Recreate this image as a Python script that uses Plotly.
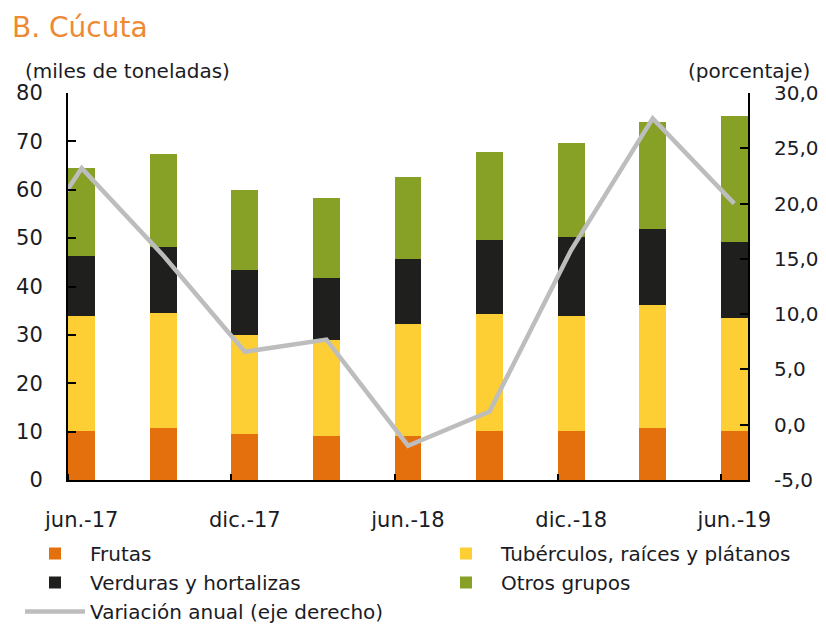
import plotly.graph_objects as go

# ---- data ----
periods = ["jun.-17", "sep.-17", "dic.-17", "mar.-18", "jun.-18",
           "sep.-18", "dic.-18", "mar.-19", "jun.-19"]
line_periods = ["mar.-17"] + periods

frutas = [10.2, 10.8, 9.6, 9.1, 9.1, 10.2, 10.2, 10.8, 10.2]
tuberculos = [23.7, 23.8, 20.4, 19.8, 23.2, 24.2, 23.7, 25.4, 23.2]
verduras = [12.4, 13.5, 13.5, 12.8, 13.4, 15.3, 16.4, 15.7, 15.7]
otros = [18.1, 19.2, 16.4, 16.6, 17.0, 18.1, 19.3, 22.1, 26.1]
variacion = [12.0, 23.2, 15.3, 6.6, 7.7, -1.9, 1.2, 15.8, 27.7, 20.0]

x_tick_labels = ["jun.-17", "dic.-17", "jun.-18", "dic.-18", "jun.-19"]
y_left_ticks = [0, 10, 20, 30, 40, 50, 60, 70, 80]
y_right_ticks = [-5, 0, 5, 10, 15, 20, 25, 30]
y_right_labels = ["-5,0", "0,0", "5,0", "10,0", "15,0", "20,0", "25,0", "30,0"]

# ---- styling ----
FONT = "DejaVu Sans"
TXT = "#1b1b24"
W, H = 826, 624
pos = {p: i for i, p in enumerate(line_periods)}
xb = [pos[p] for p in periods]
xl = [pos[p] for p in line_periods]
BW = 0.33

fig = go.Figure()
series = [
    ("Frutas", frutas, "#E3700D", "legend"),
    ("Tubérculos, raíces y plátanos", tuberculos, "#FDCF35", "legend2"),
    ("Verduras y hortalizas", verduras, "#1F1F1D", "legend"),
    ("Otros grupos", otros, "#87A026", "legend2"),
]
for name, vals, col, lg in series:
    fig.add_trace(go.Bar(x=xb, y=vals, name=name, width=BW, legend=lg,
                         marker=dict(color=col, line=dict(width=0))))

fig.add_trace(go.Scatter(x=xl, y=variacion, name="Variación anual (eje derecho)",
                         mode="lines", yaxis="y2", legend="legend",
                         line=dict(color="#BDBDBD", width=4.5)))

legend_style = dict(orientation="v", xanchor="left", yanchor="top",
                    xref="container", yref="container",
                    itemwidth=60, traceorder="normal", tracegroupgap=0,
                    font=dict(family=FONT, size=20, color=TXT),
                    bgcolor="rgba(0,0,0,0)")

fig.update_layout(
    width=W, height=H,
    margin=dict(l=60, r=86, t=85, b=152, autoexpand=False),
    paper_bgcolor="white", plot_bgcolor="white",
    barmode="stack",
    font=dict(family=FONT, size=21, color=TXT),
    title=dict(text="B. Cúcuta", x=4 / W, xanchor="left", xref="container",
               y=1 - 19 / H, yanchor="middle", yref="container",
               font=dict(family=FONT, size=28, color="#EE8A33")),
    xaxis=dict(range=[1 - BW / 2 - 0.003, 9 + BW / 2 + 0.003],
               tickmode="array", tickvals=[pos[p] for p in x_tick_labels],
               ticktext=x_tick_labels, ticks="", showgrid=False, zeroline=False,
               showline=True, linecolor="black", linewidth=2,
               ticklabelstandoff=20,
               minor=dict(ticks="inside", ticklen=6, tickwidth=2, tickcolor="black",
                          tick0=1 - BW / 2, dtick=2, showgrid=False)),
    yaxis=dict(range=[0, 80], tickmode="array", tickvals=y_left_ticks,
               ticks="inside", ticklen=8, tickwidth=2, tickcolor="black",
               showline=True, linecolor="black", linewidth=2,
               showgrid=False, zeroline=False, ticklabelstandoff=19),
    yaxis2=dict(range=[-5, 30], overlaying="y", side="right",
                tickmode="array", tickvals=y_right_ticks, ticktext=y_right_labels,
                ticks="inside", ticklen=8, tickwidth=2, tickcolor="black",
                showline=True, linecolor="black", linewidth=2,
                showgrid=False, zeroline=False, ticklabelstandoff=20,
                tickfont=dict(family=FONT, size=20, color=TXT)),
    legend=dict(x=12 / W, y=1 - 526 / H, **legend_style),
    legend2=dict(x=423 / W, y=1 - 526 / H, **legend_style),
    annotations=[
        dict(text="(miles de toneladas)", xref="paper", yref="paper",
             x=(23 - 68) / 680, y=(480 - 71) / 387, xanchor="left", yanchor="middle",
             showarrow=False, font=dict(family=FONT, size=20, color=TXT)),
        dict(text="(porcentaje)", xref="paper", yref="paper",
             x=(812 - 68) / 680, y=(480 - 71) / 387, xanchor="right", yanchor="middle",
             showarrow=False, font=dict(family=FONT, size=20, color=TXT)),
    ],
)

fig.write_html("out.html")
